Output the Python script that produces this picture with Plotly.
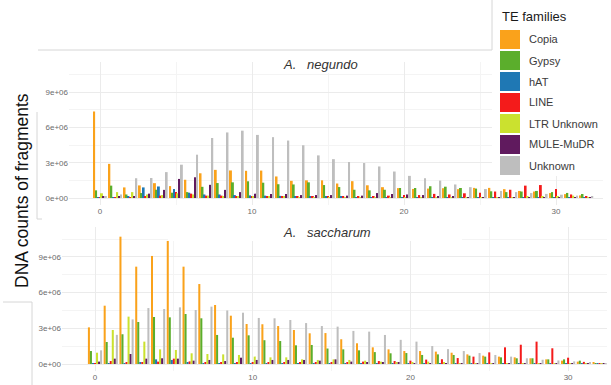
import plotly.graph_objects as go

# ---------------- data (values in millions of fragments) ----------------
bins = list(range(33))
families = ["Copia", "Gypsy", "hAT", "LINE", "LTR Unknown", "MULE-MuDR", "Unknown"]
colors = ["#FAA21B", "#5BAE2C", "#1F78B4", "#F41B1B", "#CBE12F", "#601A5E", "#BEBEBE"]

negundo_copia = [7.35, 2.9, 0.9, 1.07, 1.26, 1.01, 1.55, 2.1, 2.39, 2.34, 2.31, 2.33, 1.83, 1.46, 1.5, 1.5,
                 1.23, 1.43, 1.08, 0.92, 0.84, 0.77, 0.8, 0.83, 0.75, 0.86, 0.86, 0.75, 0.6, 0.55, 0.42, 0.33, 0.22]
negundo_gypsy = [0.65, 1.05, 0.3, 0.42, 0.7, 0.45, 0.5, 0.95, 1.27, 1.33, 1.42, 1.3, 1.17, 1.15, 1.33, 1.1,
                 0.93, 0.7, 0.65, 0.7, 0.85, 0.85, 1.0, 0.96, 0.85, 0.8, 0.57, 0.5, 0.55, 0.6, 0.5, 0.43, 0.34]
negundo_hat = [0.05, 0.05, 0.15, 0.9, 0.98, 0.76, 0.45, 0.3, 0.3, 0.25, 0.22, 0.2, 0.18, 0.15, 0.12, 0.1,
               0.1, 0.08, 0.08, 0.06, 0.05, 0.04, 0.04, 0.03, 0.03, 0.03, 0.02, 0.02, 0.02, 0.02, 0.02, 0.01, 0.01]
negundo_line = [0.02, 0.03, 0.05, 0.1, 0.2, 0.5, 0.37, 0.2, 0.2, 0.15, 0.12, 0.12, 0.1, 0.1, 0.1, 0.1,
                0.1, 0.12, 0.15, 0.2, 0.25, 0.25, 0.35, 0.3, 0.4, 0.45, 0.55, 0.7, 1.05, 1.1, 0.76, 0.3, 0.1]
negundo_ltr = [0.4, 0.5, 0.5, 0.3, 0.25, 0.4, 0.3, 0.2, 0.15, 0.12, 0.1, 0.1, 0.09, 0.08, 0.08, 0.08,
               0.07, 0.07, 0.07, 0.07, 0.07, 0.07, 0.07, 0.07, 0.07, 0.08, 0.08, 0.08, 0.1, 0.1, 0.15, 0.2, 0.08]
negundo_mule = [0.1, 0.15, 0.15, 0.37, 0.69, 1.62, 1.76, 1.12, 0.69, 0.5, 0.37, 0.34, 0.34, 0.25, 0.25, 0.25,
                0.2, 0.2, 0.42, 0.34, 0.3, 0.25, 0.15, 0.1, 0.08, 0.06, 0.05, 0.05, 0.05, 0.04, 0.04, 0.03, 0.03]
negundo_unknown = [0.15, 0.3, 1.68, 1.7, 2.2, 2.83, 3.68, 5.1, 5.57, 5.72, 5.36, 5.17, 4.88, 4.48, 3.62, 3.3,
                   3.06, 2.97, 2.68, 2.25, 1.88, 1.68, 1.48, 1.15, 0.92, 0.76, 0.6, 0.5, 0.42, 0.35, 0.28, 0.2, 0.12]

saccharum_copia = [3.08, 4.9, 10.7, 8.18, 9.08, 10.34, 8.18, 6.72, 4.96, 4.06, 3.36, 3.34, 3.19, 2.86, 2.58, 2.6,
                   2.08, 1.74, 1.4, 1.23, 1.09, 1.09, 1.04, 0.95, 0.81, 0.7, 0.62, 0.56, 0.48, 0.39, 0.28, 0.2, 0.1]
saccharum_gypsy = [1.09, 1.85, 2.5, 3.53, 3.95, 3.92, 4.2, 3.84, 2.44, 2.21, 2.41, 2.0, 1.93, 1.57, 1.6, 1.3,
                   1.23, 1.15, 1.0, 0.9, 0.92, 0.76, 0.81, 0.76, 0.7, 0.62, 0.56, 0.48, 0.48, 0.39, 0.39, 0.28, 0.08]
saccharum_hat = [0.02, 0.05, 0.05, 0.1, 0.39, 0.34, 0.1, 0.06, 0.05, 0.04, 0.04, 0.04, 0.03, 0.03, 0.03, 0.03,
                 0.03, 0.03, 0.03, 0.03, 0.03, 0.02, 0.02, 0.02, 0.02, 0.02, 0.02, 0.02, 0.02, 0.02, 0.01, 0.01, 0.01]
saccharum_line = [0.05, 0.25, 0.1, 0.14, 0.2, 0.45, 0.22, 0.15, 0.1, 0.1, 0.1, 0.14, 0.14, 0.11, 0.1, 0.1,
                  0.11, 0.2, 0.25, 0.25, 0.28, 0.37, 0.4, 0.5, 0.62, 0.98, 1.4, 1.62, 1.88, 1.32, 0.53, 0.18, 0.03]
saccharum_ltr = [0.95, 2.86, 3.98, 1.88, 1.23, 1.18, 0.9, 0.84, 0.81, 0.76, 0.62, 0.56, 0.56, 0.39, 0.34, 0.39,
                 0.34, 0.28, 0.2, 0.14, 0.1, 0.2, 0.1, 0.08, 0.06, 0.05, 0.05, 0.05, 0.05, 0.05, 0.05, 0.04, 0.03]
saccharum_mule = [0.2, 0.45, 0.84, 0.45, 0.48, 0.45, 0.28, 0.34, 0.25, 0.53, 0.34, 0.34, 0.34, 0.34, 0.28, 0.39,
                  0.2, 0.11, 0.11, 0.11, 0.05, 0.05, 0.04, 0.04, 0.04, 0.04, 0.04, 0.04, 0.03, 0.03, 0.03, 0.03, 0.02]
saccharum_unknown = [1.15, 2.45, 3.75, 4.7, 4.62, 4.76, 4.54, 4.82, 4.5, 4.31, 3.87, 3.84, 3.7, 3.44, 3.19, 3.14,
                     2.78, 2.72, 2.44, 2.03, 1.88, 1.51, 1.25, 1.09, 0.92, 0.76, 0.62, 0.48, 0.36, 0.3, 0.22, 0.12, 0.05]

negundo = [negundo_copia, negundo_gypsy, negundo_hat, negundo_line, negundo_ltr, negundo_mule, negundo_unknown]
saccharum = [saccharum_copia, saccharum_gypsy, saccharum_hat, saccharum_line, saccharum_ltr, saccharum_mule,
             saccharum_unknown]

x_tickvals = [0, 10, 20, 30]
x_ticktext = ["0", "10", "20", "30"]
y_tickvals = [0, 3e6, 6e6, 9e6]
y_ticktext = ["0e+00", "3e+06", "6e+06", "9e+06"]

W, H = 611, 385
FONT = "Liberation Sans, Arial, sans-serif"


def px(x):
    return x / W


def py(y):
    return 1 - y / H


fig = go.Figure()
for i, fam in enumerate(families):
    fig.add_trace(go.Bar(x=bins, y=[v * 1e6 for v in negundo[i]], name=fam,
                         marker=dict(color=colors[i], line=dict(width=0)),
                         xaxis="x", yaxis="y", showlegend=False))
for i, fam in enumerate(families):
    fig.add_trace(go.Bar(x=bins, y=[v * 1e6 for v in saccharum[i]], name=fam,
                         marker=dict(color=colors[i], line=dict(width=0)),
                         xaxis="x2", yaxis="y2", showlegend=False))

grid_major = "#EBEBEB"
grid_minor = "#F4F4F4"


def xaxis(domain, rng, anchor):
    return dict(domain=domain, range=rng, anchor=anchor, tickmode="array", tickvals=x_tickvals, ticktext=x_ticktext,
                showgrid=True, gridcolor=grid_major, gridwidth=1, zeroline=False, showline=False, ticks="",
                tickfont=dict(size=8, color="#6b6b6b", family=FONT),
                minor=dict(tick0=0, dtick=5, showgrid=True, gridcolor=grid_minor, gridwidth=1))


def yaxis(domain, rng, anchor):
    return dict(domain=domain, range=rng, anchor=anchor, tickmode="array", tickvals=y_tickvals, ticktext=y_ticktext,
                showgrid=True, gridcolor=grid_major, gridwidth=1, zeroline=False, showline=False, ticks="",
                tickfont=dict(size=8, color="#6b6b6b", family=FONT),
                minor=dict(tick0=0, dtick=1.5e6, showgrid=True, gridcolor=grid_minor, gridwidth=1))


# top panel: 0 -> x=100px, 30 -> 556px ; y 0 -> 198px, 3e6 -> 35.3px
top_dom_x = [px(69), px(603)]
top_rng_x = [(69 - 100) / 15.2, (603 - 100) / 15.2]
top_dom_y = [py(205), py(62)]
top_rng_y = [-(205 - 198) / 11.77 * 1e6, (198 - 62) / 11.77 * 1e6]
# bottom panel: 0 -> 95px, 30 -> 568px ; y 0 -> 364px, 3e6 -> 35.7px
bot_dom_x = [px(62), px(607)]
bot_rng_x = [(62 - 95) / 15.77, (607 - 95) / 15.77]
bot_dom_y = [py(371), py(227)]
bot_rng_y = [-(371 - 364) / 11.9 * 1e6, (364 - 227) / 11.9 * 1e6]

fig.update_layout(
    width=W, height=H,
    margin=dict(l=0, r=0, t=0, b=0),
    paper_bgcolor="white", plot_bgcolor="white",
    barmode="group", bargap=0.1, bargroupgap=0,
    font=dict(family=FONT),
    xaxis=xaxis(top_dom_x, top_rng_x, "y"),
    yaxis=yaxis(top_dom_y, top_rng_y, "x"),
    xaxis2=xaxis(bot_dom_x, bot_rng_x, "y2"),
    yaxis2=yaxis(bot_dom_y, bot_rng_y, "x2"),
    showlegend=False,
)

shapes = []
# white boxes behind facet labels (cover gridlines, not bars)
shapes.append(dict(type="rect", xref="x", yref="y", x0=(265 - 100) / 15.2, x1=(375 - 100) / 15.2,
                   y0=(198 - 73) / 11.77 * 1e6, y1=13e6, fillcolor="white", line=dict(width=0), layer="between"))
shapes.append(dict(type="rect", xref="x2", yref="y2", x0=(168 - 95) / 15.77, x1=(462 - 95) / 15.77,
                   y0=(364 - 241) / 11.9 * 1e6, y1=13e6, fillcolor="white", line=dict(width=0), layer="between"))
# legend background box
shapes.append(dict(type="rect", xref="paper", yref="paper", x0=px(492), x1=1, y0=py(176), y1=1,
                   fillcolor="white", line=dict(width=0), layer="above"))
# faint panel border remnants
line_col = "#D6D6D6"
for (x0, y0, x1, y1) in [(38, 50, 492, 50), (492, 0, 492, 50), (37, 112, 37, 219), (37, 219, 42, 219),
                         (3, 302, 32, 302), (32, 302, 32, 385)]:
    shapes.append(dict(type="line", xref="paper", yref="paper", x0=px(x0), x1=px(x1), y0=py(y0), y1=py(y1),
                       line=dict(color=line_col, width=1), layer="above"))
# legend keys
key_top = 30
key_pitch = 21
for i, fam in enumerate(families):
    yt = key_top + i * key_pitch
    shapes.append(dict(type="rect", xref="paper", yref="paper", x0=px(500), x1=px(520), y0=py(yt + 19), y1=py(yt),
                       fillcolor=colors[i], line=dict(width=0), layer="above"))

annotations = []
annotations.append(dict(xref="paper", yref="paper", x=px(500), y=py(16), xanchor="left", yanchor="middle",
                        text="TE families", showarrow=False, font=dict(size=13, color="#1a1a1a", family=FONT)))
for i, fam in enumerate(families):
    yc = key_top + i * key_pitch + 9.5
    annotations.append(dict(xref="paper", yref="paper", x=px(527), y=py(yc), xanchor="left", yanchor="middle",
                            text=fam, showarrow=False, font=dict(size=11, color="#3a3a3a", family=FONT)))
annotations.append(dict(xref="paper", yref="paper", x=px(320), y=py(64), xanchor="center", yanchor="middle",
                        text="<i>A.\u00a0\u00a0 negundo</i>", showarrow=False,
                        font=dict(size=13, color="#333333", family=FONT)))
annotations.append(dict(xref="paper", yref="paper", x=px(327), y=py(232), xanchor="center", yanchor="middle",
                        text="<i>A.\u00a0\u00a0 saccharum</i>", showarrow=False,
                        font=dict(size=13, color="#333333", family=FONT)))
annotations.append(dict(xref="paper", yref="paper", x=px(22), y=py(191), xanchor="center", yanchor="middle",
                        text="DNA counts of fragments", textangle=-90, showarrow=False,
                        font=dict(size=17.5, color="#111111", family=FONT)))

fig.update_layout(shapes=shapes, annotations=annotations)
fig.write_html("out.html", config={"displayModeBar": False},
               post_script="document.body.style.margin='0';document.body.style.overflow='hidden';")
